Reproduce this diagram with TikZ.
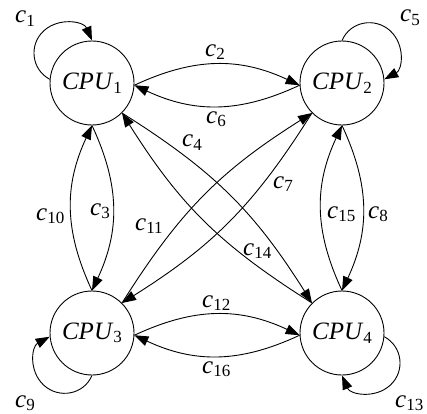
\documentclass[tikz,border=0pt]{standalone}
\usepackage{fontspec}
\setmainfont{Liberation Serif}
\usetikzlibrary{arrows.meta,calc}
\newcommand\mysub[1]{\raisebox{-3.5pt}{\fontsize{17}{17}\selectfont\upshape #1}}
\newcommand\clab[1]{\textit{c}\mysub{#1}}
\newcommand\cpulab[1]{\textit{CPU}\mysub{#1}}
\begin{document}
\begin{tikzpicture}[x=1pt,y=-1pt,
  cpu/.style={circle,draw,line width=0.9pt,minimum size=84pt,inner sep=0pt,
    font=\fontsize{25}{25}\selectfont},
  lbl/.style={anchor=base west,inner sep=0pt,font=\fontsize{25}{25}\selectfont},
  edge/.style={line width=0.9pt,-{Triangle[length=14pt,width=10pt]}}]
\useasboundingbox (0,0) rectangle (427,413);
\node[cpu] (cpu1) at (92,83) {\cpulab{1}};
\node[cpu] (cpu2) at (342,83) {\cpulab{2}};
\node[cpu] (cpu3) at (92,333) {\cpulab{3}};
\node[cpu] (cpu4) at (342,333) {\cpulab{4}};
% self loops
\draw[edge] (cpu1.175) .. controls +(-18.2,-9.8) and +(-15.3,14) .. ($(cpu1)+(-48.2,-52.2)$)
  .. controls +(15.3,-14) and +(-8.1,-19.1) .. (cpu1.north);
\draw[edge] (cpu2.north) .. controls +(8.1,-19.1) and +(-15.3,-14) .. ($(cpu2)+(48.2,-52.2)$)
  .. controls +(15.3,14) and +(18.2,-9.8) .. (cpu2.5);
\draw[edge] (cpu3.south) .. controls +(-8.1,19.1) and +(15.3,14) .. ($(cpu3)+(-48.2,52.2)$)
  .. controls +(-15.3,-14) and +(-18.2,9.8) .. (cpu3.185);
\draw[edge] (cpu4.-5) .. controls +(18.2,9.8) and +(15.3,-14) .. ($(cpu4)+(48.2,52.2)$)
  .. controls +(-15.3,14) and +(8.1,19.1) .. (cpu4.south);
% horizontal
\draw[edge] (cpu1.-3) .. controls +(60,-28) and +(-60,-28) .. (cpu2.183);
\draw[edge] (cpu2.183) .. controls +(-60,28) and +(60,28) .. (cpu1.-3);
\draw[edge] (cpu3.-3) .. controls +(60,-28) and +(-60,-28) .. (cpu4.183);
\draw[edge] (cpu4.183) .. controls +(-60,28) and +(60,28) .. (cpu3.-3);
% vertical
\draw[edge] (cpu1.south) .. controls +(28,60) and +(28,-60) .. (cpu3.north);
\draw[edge] (cpu3.north) .. controls +(-28,-60) and +(-28,60) .. (cpu1.south);
\draw[edge] (cpu2.south) .. controls +(28,60) and +(28,-60) .. (cpu4.north);
\draw[edge] (cpu4.north) .. controls +(-28,-60) and +(-28,60) .. (cpu2.south);
% diagonals
\draw[edge] (cpu1.-45) .. controls +(92,58) and +(-58,-92) .. (cpu4.135);
\draw[edge] (cpu4.135) .. controls +(-92,-58) and +(58,92) .. (cpu1.-45);
\draw[edge] (cpu3.45) .. controls +(58,-92) and +(-92,58) .. (cpu2.225);
\draw[edge] (cpu2.225) .. controls +(-58,92) and +(92,-58) .. (cpu3.45);
% labels
\node[lbl] (l1) at (15,22.5) {\clab{1}};
\node[lbl] (l5) at (400,21.5) {\clab{5}};
\node[lbl] (l2) at (205,56) {\clab{2}};
\node[lbl] (l6) at (206,123) {\clab{6}};
\node[lbl] (l4) at (182,146.5) {\clab{4}};
\node[lbl] (l7) at (273,188) {\clab{7}};
\node[lbl] (l11) at (135,230) {\clab{11}};
\node[lbl] (l14) at (243,255) {\clab{14}};
\node[lbl] (l10) at (36,220) {\clab{10}};
\node[lbl] (l3) at (90,215) {\clab{3}};
\node[lbl] (l15) at (327,218) {\clab{15}};
\node[lbl] (l8) at (368,218) {\clab{8}};
\node[lbl] (l12) at (202,307) {\clab{12}};
\node[lbl] (l16) at (202,373) {\clab{16}};
\node[lbl] (l9) at (15,407) {\clab{9}};
\node[lbl] (l13) at (395,407) {\clab{13}};
\end{tikzpicture}
\end{document}
